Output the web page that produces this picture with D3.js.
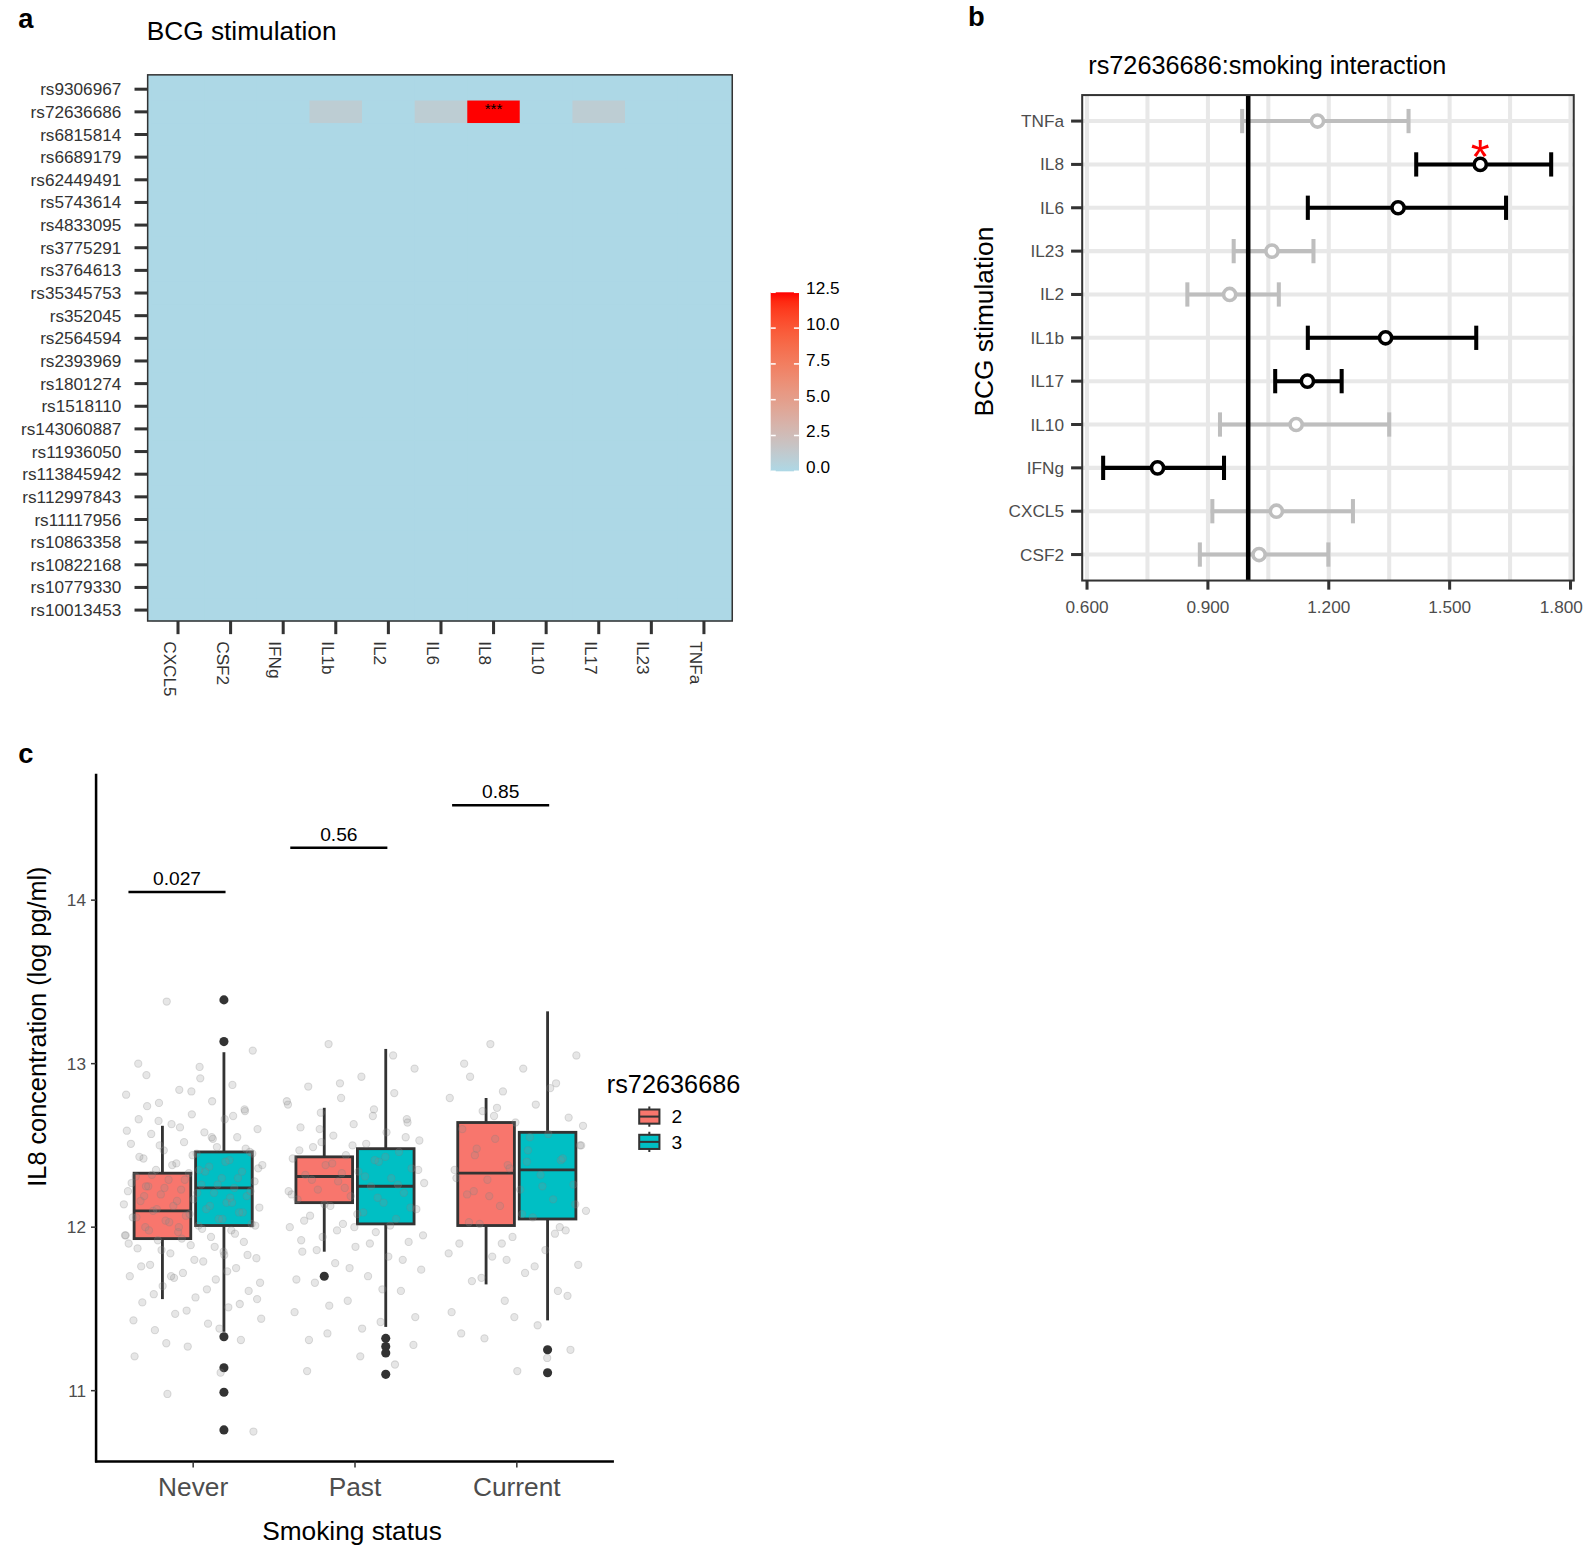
<!DOCTYPE html>
<html>
<head>
<meta charset="utf-8">
<script src="https://cdn.jsdelivr.net/npm/d3@7"></script>
<style>
  body { margin: 0; background: #fff; }
  text { font-family: "Liberation Sans", Arial, Helvetica, sans-serif; }
</style>
</head>
<body>
<svg id="fig" width="1586" height="1552"></svg>
<script>
// ---------- panel a data
var snps = ["rs9306967","rs72636686","rs6815814","rs6689179","rs62449491","rs5743614",
  "rs4833095","rs3775291","rs3764613","rs35345753","rs352045","rs2564594","rs2393969",
  "rs1801274","rs1518110","rs143060887","rs11936050","rs113845942","rs112997843",
  "rs11117956","rs10863358","rs10822168","rs10779330","rs10013453"];
var cytokinesA = ["CXCL5","CSF2","IFNg","IL1b","IL2","IL6","IL8","IL10","IL17","IL23","TNFa"];
// -log10 p, everything not listed is 0
var heatHits = [
  {snp: "rs72636686", cyto: "IL1b", value: 1.0},
  {snp: "rs72636686", cyto: "IL6",  value: 1.0},
  {snp: "rs72636686", cyto: "IL8",  value: 12.5},
  {snp: "rs72636686", cyto: "IL17", value: 1.0}
];
var heatStars = [{snp: "rs72636686", cyto: "IL8", label: "***"}];
var colorBreaks = [0, 2.5, 5, 7.5, 10, 12.5];

// ---------- panel b data
var forestCyto = ["TNFa","IL8","IL6","IL23","IL2","IL1b","IL17","IL10","IFNg","CXCL5","CSF2"];
var forestEst  = [1.172, 1.576, 1.372, 1.059, 0.954, 1.341, 1.147, 1.119, 0.775, 1.070, 1.027];
var forestLo   = [0.985, 1.417, 1.148, 0.964, 0.849, 1.148, 1.067, 0.930, 0.640, 0.911, 0.880];
var forestHi   = [1.398, 1.752, 1.640, 1.162, 1.076, 1.566, 1.232, 1.350, 0.940, 1.260, 1.199];
var forestSig  = [false, true, true, false, false, true, true, false, true, false, false];
var forestStar = ["", "*", "", "", "", "", "", "", "", "", ""];
var forestTicks = [0.6, 0.9, 1.2, 1.5, 1.8];

// ---------- panel c data
var smoking = ["Never","Past","Current"];
var genotypes = ["2","3"];
// order: Never-2, Never-3, Past-2, Past-3, Current-2, Current-3
var boxGroup = ["Never","Never","Past","Past","Current","Current"];
var boxGeno  = ["2","3","2","3","2","3"];
var boxLow   = [11.56, 11.36, 11.85, 11.39, 11.65, 11.43];
var boxQ1    = [11.93, 12.01, 12.15, 12.02, 12.01, 12.05];
var boxMed   = [12.10, 12.24, 12.31, 12.25, 12.33, 12.35];
var boxQ3    = [12.33, 12.46, 12.43, 12.48, 12.64, 12.58];
var boxHigh  = [12.62, 13.07, 12.73, 13.09, 12.79, 13.32];
var boxOut   = [[], [13.39, 13.135, 11.33, 11.14, 10.99, 10.76], [11.70],
                [11.32, 11.27, 11.23, 11.10], [], [11.25, 11.11]];
var neverPts = [13.38, 13.08, 12.98, 12.93, 12.87, 12.84, 12.81, 12.77, 12.76, 12.71, 12.69, 12.66,
  12.66, 12.63, 12.6, 12.58, 12.57, 12.55, 12.52, 12.51, 12.49, 12.47, 12.46, 12.45, 12.42, 12.41,
  12.39, 12.38, 12.37, 12.35, 12.34, 12.33, 12.31, 12.3, 12.29, 12.28, 12.26, 12.25, 12.24, 12.23,
  12.22, 12.21, 12.2, 12.19, 12.17, 12.16, 12.15, 12.13, 12.12, 12.11, 12.1, 12.09, 12.07, 12.06,
  12.05, 12.04, 12.02, 12.01, 12.0, 11.98, 11.97, 11.95, 11.94, 11.92, 11.91, 11.89, 11.87, 11.85,
  11.84, 11.81, 11.79, 11.77, 11.75, 11.72, 11.7, 11.68, 11.64, 11.61, 11.57, 11.54, 11.51, 11.47,
  11.44, 11.41, 11.37, 11.31, 11.27, 11.21, 11.11, 10.98, 10.75,
  12.91, 12.74, 12.68, 12.61, 12.59, 12.54, 12.5, 12.48, 12.44, 12.43, 12.4, 12.38, 12.36, 12.34,
  12.32, 12.3, 12.29, 12.27, 12.26, 12.24, 12.22, 12.21, 12.19, 12.18, 12.16, 12.14, 12.13, 12.11,
  12.09, 12.08, 12.06, 12.05, 12.03, 12.01, 11.99, 11.98, 11.96, 11.93, 11.9, 11.88, 11.86, 11.83,
  11.8, 11.76, 11.73, 11.69, 11.66, 11.62, 11.59, 11.53, 11.49, 11.43, 11.38, 11.29, 12.45, 12.35,
  12.25, 12.15, 12.0, 11.95, 12.55, 12.65, 12.72, 12.83, 13.0, 11.83, 11.7, 11.56];
var pastPts = [13.12, 12.97, 12.92, 12.86, 12.82, 12.79, 12.75, 12.72, 12.7, 12.66, 12.63, 12.61,
  12.58, 12.56, 12.53, 12.51, 12.49, 12.46, 12.44, 12.42, 12.4, 12.38, 12.36, 12.34, 12.32, 12.3,
  12.28, 12.27, 12.25, 12.23, 12.21, 12.19, 12.17, 12.15, 12.13, 12.11, 12.09, 12.07, 12.05, 12.02,
  12.0, 11.97, 11.94, 11.91, 11.88, 11.85, 11.82, 11.78, 11.74, 11.7, 11.66, 11.61, 11.55, 11.48,
  11.42, 11.35, 11.28, 11.21, 11.12,
  13.05, 12.88, 12.77, 12.68, 12.6, 12.55, 12.5, 12.47, 12.43, 12.39, 12.35, 12.31, 12.29, 12.26,
  12.24, 12.2, 12.18, 12.14, 12.12, 12.08, 12.04, 12.01, 11.98, 11.95, 11.9, 11.86, 11.8, 11.75,
  11.68, 11.62, 11.52, 11.45, 11.38, 11.31, 11.16, 12.33, 12.22, 12.41, 12.52, 12.64, 12.0, 11.92];
var currentPts = [13.12, 13.05, 12.97, 12.92, 12.88, 12.83, 12.79, 12.75, 12.71, 12.67, 12.64, 12.6,
  12.57, 12.54, 12.5, 12.47, 12.44, 12.41, 12.38, 12.35, 12.32, 12.29, 12.26, 12.23, 12.2, 12.17,
  12.13, 12.1, 12.06, 12.02, 11.98, 11.94, 11.9, 11.86, 11.82, 11.77, 11.72, 11.67, 11.61, 11.55,
  11.48, 11.4, 11.32, 11.25, 11.12,
  13.0, 12.85, 12.73, 12.62, 12.55, 12.48, 12.42, 12.36, 12.3, 12.25, 12.19, 12.14, 12.08, 12.03,
  11.96, 11.9, 11.84, 11.76, 11.69, 11.58, 11.45, 11.35, 11.2, 12.68, 12.5, 12.4, 12.22, 12.0, 11.8];
var pLabels = ["0.027", "0.56", "0.85"];
var pBarY = [14.05, 14.32, 14.58];
var yTicksC = [11, 12, 13, 14];

var svg = d3.select("#fig");
var defs = svg.append("defs");
// layout below was measured on a 1568-wide view of the page
var root = svg.append("g").attr("transform", "scale(1.0114)");
var dark = "#333333", tickGrey = "#4d4d4d";

// ======================= panel a
var ga = root.append("g");
ga.append("text").attr("x", 18).attr("y", 28).text("a")
  .style("font-size", "27px").style("font-weight", "bold");
ga.append("text").attr("x", 145).attr("y", 40).text("BCG stimulation").style("font-size", "26px");

var xa = d3.scaleBand().domain(cytokinesA).range([150, 722]);
var ya = d3.scaleBand().domain(snps).range([77, 614.4]);
var fillA = d3.scaleLinear().domain([0, 12.5]).range(["lightblue", "red"]).interpolate(d3.interpolateLab);

var cells = [];
snps.forEach(function(s){
  cytokinesA.forEach(function(c){
    var hit = heatHits.find(function(h){ return h.snp == s && h.cyto == c; });
    cells.push({snp: s, cyto: c, value: hit ? hit.value : 0});
  });
});
ga.append("rect").attr("x", 146).attr("y", 74).attr("width", 578).attr("height", 540).attr("fill", fillA(0));
ga.selectAll("rect.cell").data(cells).enter().append("rect").attr("class", "cell")
  .attr("x", function(d){ return xa(d.cyto); })
  .attr("y", function(d){ return ya(d.snp); })
  .attr("width", xa.bandwidth()).attr("height", ya.bandwidth())
  .attr("fill", function(d){ return fillA(d.value); });
ga.selectAll("text.star").data(heatStars).enter().append("text").attr("class", "star")
  .attr("x", function(d){ return xa(d.cyto) + xa.bandwidth() / 2; })
  .attr("y", function(d){ return ya(d.snp) + 13; })
  .attr("text-anchor", "middle").style("font-size", "15px").text(function(d){ return d.label; });
ga.append("rect").attr("x", 146).attr("y", 74).attr("width", 578).attr("height", 540)
  .attr("fill", "none").attr("stroke", dark).attr("stroke-width", 1.5);

// y axis
ga.selectAll("line.yt").data(snps).enter().append("line")
  .attr("x1", 133).attr("x2", 146)
  .attr("y1", function(d){ return ya(d) + ya.bandwidth() / 2; })
  .attr("y2", function(d){ return ya(d) + ya.bandwidth() / 2; })
  .attr("stroke", dark).attr("stroke-width", 3);
ga.selectAll("text.yl").data(snps).enter().append("text")
  .attr("x", 120).attr("y", function(d){ return ya(d) + ya.bandwidth() / 2; })
  .attr("dy", "0.35em").attr("text-anchor", "end").attr("fill", dark)
  .style("font-size", "17px").text(function(d){ return d; });
// x axis
ga.selectAll("line.xt").data(cytokinesA).enter().append("line")
  .attr("x1", function(d){ return xa(d) + xa.bandwidth() / 2; })
  .attr("x2", function(d){ return xa(d) + xa.bandwidth() / 2; })
  .attr("y1", 614).attr("y2", 627).attr("stroke", dark).attr("stroke-width", 3);
ga.selectAll("text.xl").data(cytokinesA).enter().append("text")
  .attr("transform", function(d){ return "translate(" + (xa(d) + xa.bandwidth() / 2 - 8) + ",634) rotate(90)"; })
  .attr("dominant-baseline", "central").attr("fill", dark)
  .style("font-size", "17px").text(function(d){ return d; });

// colour bar
var cb = d3.scaleLinear().domain([0, 12.5]).range([466, 289]);
var grad = defs.append("linearGradient").attr("id", "cbgrad")
  .attr("x1", 0).attr("y1", 1).attr("x2", 0).attr("y2", 0);
d3.range(0, 1.0001, 0.05).forEach(function(t){
  grad.append("stop").attr("offset", t).attr("stop-color", fillA(t * 12.5));
});
ga.append("rect").attr("x", 762).attr("y", cb(12.5)).attr("width", 28)
  .attr("height", cb(0) - cb(12.5)).attr("fill", "url(#cbgrad)");
colorBreaks.forEach(function(b){
  [[762, 767], [785, 790]].forEach(function(p){
    ga.append("line").attr("x1", p[0]).attr("x2", p[1]).attr("y1", cb(b)).attr("y2", cb(b))
      .attr("stroke", "#fff").attr("stroke-width", 1.5);
  });
  ga.append("text").attr("x", 797).attr("y", cb(b) - 4).attr("dy", "0.35em")
    .style("font-size", "17px").text(d3.format(".1f")(b));
});

// ======================= panel b
var gb = root.append("g");
gb.append("text").attr("x", 957).attr("y", 26).text("b")
  .style("font-size", "27px").style("font-weight", "bold");
gb.append("text").attr("x", 1076).attr("y", 73).text("rs72636686:smoking interaction").style("font-size", "25px");

var xb = d3.scaleLinear().domain([0.588, 1.808]).range([1070, 1556]);
var yb = d3.scalePoint().domain(forestCyto).range([119.7, 548.3]);
var minorB = d3.pairs(forestTicks).map(function(p){ return (p[0] + p[1]) / 2; });

minorB.concat(forestTicks).forEach(function(v){
  gb.append("line").attr("x1", xb(v)).attr("x2", xb(v)).attr("y1", 94).attr("y2", 574)
    .attr("stroke", "#e8e8e8").attr("stroke-width", 4);
});
forestCyto.forEach(function(c){
  gb.append("line").attr("x1", 1070).attr("x2", 1556).attr("y1", yb(c)).attr("y2", yb(c))
    .attr("stroke", "#e8e8e8").attr("stroke-width", 4);
});

var fcol = function(i){ return forestSig[i] ? "#000" : "#bebebe"; };
forestCyto.forEach(function(c, i){
  var y = yb(c);
  gb.append("line").attr("x1", xb(forestLo[i])).attr("x2", xb(forestHi[i])).attr("y1", y).attr("y2", y)
    .attr("stroke", fcol(i)).attr("stroke-width", 4);
  [forestLo[i], forestHi[i]].forEach(function(v){
    gb.append("line").attr("x1", xb(v)).attr("x2", xb(v)).attr("y1", y - 12).attr("y2", y + 12)
      .attr("stroke", fcol(i)).attr("stroke-width", 4);
  });
});
gb.append("line").attr("x1", xb(1)).attr("x2", xb(1)).attr("y1", 94).attr("y2", 574)
  .attr("stroke", "#000").attr("stroke-width", 4.5);
forestCyto.forEach(function(c, i){
  gb.append("circle").attr("cx", xb(forestEst[i])).attr("cy", yb(c)).attr("r", 6)
    .attr("fill", "#fff").attr("stroke", fcol(i)).attr("stroke-width", 3.5);
  if (forestStar[i]) {
    gb.append("text").attr("x", xb(forestEst[i])).attr("y", yb(c) + 8)
      .attr("text-anchor", "middle").attr("fill", "red").style("font-size", "48px").text(forestStar[i]);
  }
});
gb.append("rect").attr("x", 1070).attr("y", 94).attr("width", 486).attr("height", 480)
  .attr("fill", "none").attr("stroke", dark).attr("stroke-width", 2);

forestCyto.forEach(function(c){
  gb.append("line").attr("x1", 1059).attr("x2", 1070).attr("y1", yb(c)).attr("y2", yb(c))
    .attr("stroke", dark).attr("stroke-width", 3);
  gb.append("text").attr("x", 1052).attr("y", yb(c)).attr("dy", "0.35em").attr("text-anchor", "end")
    .attr("fill", tickGrey).style("font-size", "17px").text(c);
});
forestTicks.forEach(function(v, i){
  var last = i == forestTicks.length - 1;
  gb.append("line").attr("x1", xb(v)).attr("x2", xb(v)).attr("y1", 574).attr("y2", 583)
    .attr("stroke", dark).attr("stroke-width", 3);
  // the last label is pulled in so it stays on the page
  gb.append("text").attr("x", last ? 1565 : xb(v)).attr("y", 606)
    .attr("text-anchor", last ? "end" : "middle")
    .attr("fill", tickGrey).style("font-size", "17px").text(d3.format(".3f")(v));
});
gb.append("text").attr("transform", "translate(982,318) rotate(-90)").attr("text-anchor", "middle")
  .style("font-size", "26px").text("BCG stimulation");

// ======================= panel c
var gc = root.append("g");
gc.append("text").attr("x", 18).attr("y", 754).text("c")
  .style("font-size", "27px").style("font-weight", "bold");

var yc = d3.scaleLinear().domain([11, 14]).range([1375, 890]);
var xc = d3.scalePoint().domain(smoking).range([191, 511]);
var unit = (xc("Past") - xc("Never"));
var dodge = {"2": -0.19, "3": 0.19};
var boxW = 0.35 * unit;
var fillC = {"2": "#F8766D", "3": "#00BFC4"};

// boxes
boxGroup.forEach(function(g, i){
  var cx = xc(g) + dodge[boxGeno[i]] * unit;
  gc.append("line").attr("x1", cx).attr("x2", cx).attr("y1", yc(boxHigh[i])).attr("y2", yc(boxQ3[i]))
    .attr("stroke", dark).attr("stroke-width", 2.8);
  gc.append("line").attr("x1", cx).attr("x2", cx).attr("y1", yc(boxQ1[i])).attr("y2", yc(boxLow[i]))
    .attr("stroke", dark).attr("stroke-width", 2.8);
  gc.append("rect").attr("x", cx - boxW / 2).attr("y", yc(boxQ3[i])).attr("width", boxW)
    .attr("height", yc(boxQ1[i]) - yc(boxQ3[i])).attr("fill", fillC[boxGeno[i]])
    .attr("stroke", dark).attr("stroke-width", 2.8);
  gc.append("line").attr("x1", cx - boxW / 2).attr("x2", cx + boxW / 2)
    .attr("y1", yc(boxMed[i])).attr("y2", yc(boxMed[i])).attr("stroke", dark).attr("stroke-width", 2.8);
  gc.selectAll(null).data(boxOut[i]).enter().append("circle")
    .attr("cx", cx).attr("cy", function(d){ return yc(d); }).attr("r", 4.5).attr("fill", dark);
});

// jittered raw points (deterministic spread)
var ptsByGroup = {Never: neverPts, Past: pastPts, Current: currentPts};
smoking.forEach(function(g){
  gc.selectAll(null).data(ptsByGroup[g]).enter().append("circle")
    .attr("cx", function(d, i){ return xc(g) + (((i * 0.618034 + 0.31) % 1) - 0.5) * 0.86 * unit; })
    .attr("cy", function(d){ return yc(d); })
    .attr("r", 3.6).attr("fill", "#8c8c8c").attr("fill-opacity", 0.22)
    .attr("stroke", "#808080").attr("stroke-opacity", 0.25);
});

// significance bars
smoking.forEach(function(g, i){
  var x0 = xc(g) - 0.4 * unit, x1 = xc(g) + 0.2 * unit, y = yc(pBarY[i]);
  gc.append("line").attr("x1", x0).attr("x2", x1).attr("y1", y).attr("y2", y)
    .attr("stroke", "#000").attr("stroke-width", 2.5);
  gc.append("text").attr("x", (x0 + x1) / 2).attr("y", y - 7).attr("text-anchor", "middle")
    .style("font-size", "19px").text(pLabels[i]);
});

// axes
gc.append("line").attr("x1", 95).attr("x2", 95).attr("y1", 765).attr("y2", 1446)
  .attr("stroke", "#000").attr("stroke-width", 2.5);
gc.append("line").attr("x1", 94).attr("x2", 607).attr("y1", 1445).attr("y2", 1445)
  .attr("stroke", "#000").attr("stroke-width", 2.5);
yTicksC.forEach(function(v){
  gc.append("line").attr("x1", 90).attr("x2", 95).attr("y1", yc(v)).attr("y2", yc(v))
    .attr("stroke", dark).attr("stroke-width", 1.5);
  gc.append("text").attr("x", 85).attr("y", yc(v)).attr("dy", "0.35em").attr("text-anchor", "end")
    .attr("fill", tickGrey).style("font-size", "17px").text(v);
});
smoking.forEach(function(g){
  gc.append("line").attr("x1", xc(g)).attr("x2", xc(g)).attr("y1", 1445).attr("y2", 1451)
    .attr("stroke", dark).attr("stroke-width", 1.5);
  gc.append("text").attr("x", xc(g)).attr("y", 1479).attr("text-anchor", "middle")
    .attr("fill", tickGrey).style("font-size", "26px").text(g);
});
gc.append("text").attr("x", 348).attr("y", 1523).attr("text-anchor", "middle")
  .style("font-size", "26px").text("Smoking status");
gc.append("text").attr("transform", "translate(45,1015) rotate(-90)").attr("text-anchor", "middle")
  .style("font-size", "25px").text("IL8 concentration (log pg/ml)");

// legend
gc.append("text").attr("x", 600).attr("y", 1081).style("font-size", "25px").text("rs72636686");
genotypes.forEach(function(g, i){
  var cy = 1104 + i * 25, kx = 642;
  gc.append("line").attr("x1", kx).attr("x2", kx).attr("y1", cy - 10).attr("y2", cy + 10)
    .attr("stroke", dark).attr("stroke-width", 2);
  gc.append("rect").attr("x", kx - 10).attr("y", cy - 7).attr("width", 20).attr("height", 14)
    .attr("fill", fillC[g]).attr("stroke", dark).attr("stroke-width", 2);
  gc.append("line").attr("x1", kx - 10).attr("x2", kx + 10).attr("y1", cy).attr("y2", cy)
    .attr("stroke", dark).attr("stroke-width", 2);
  gc.append("text").attr("x", 664).attr("y", cy).attr("dy", "0.35em").style("font-size", "19px").text(g);
});
</script>
</body>
</html>
